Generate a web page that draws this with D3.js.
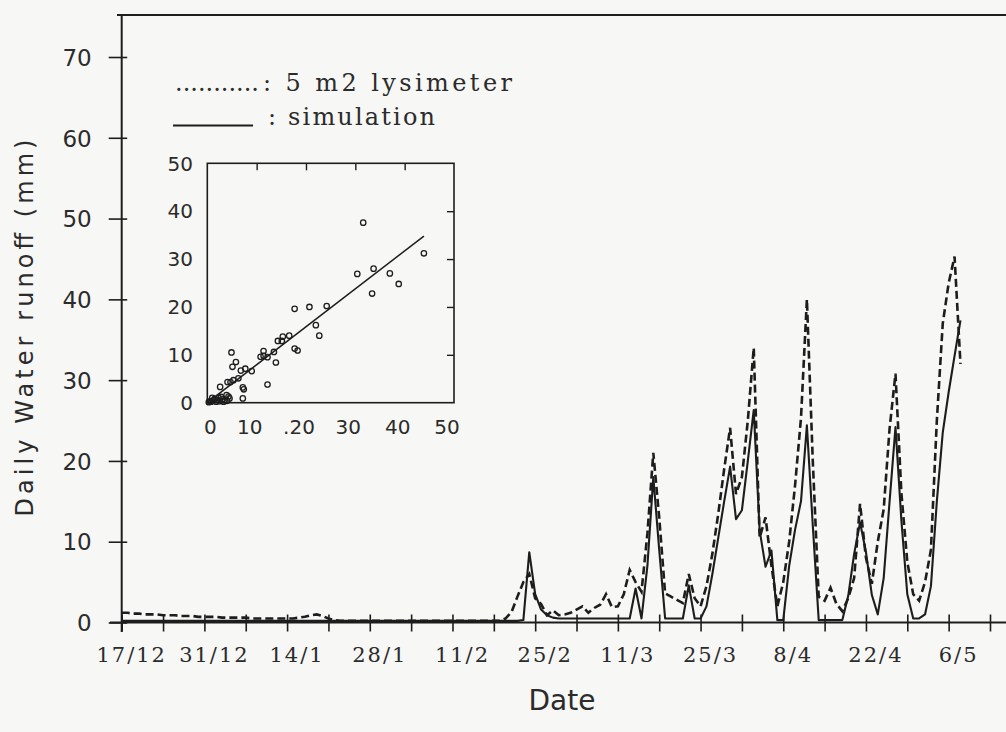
<!DOCTYPE html>
<html><head><meta charset="utf-8">
<script src="https://cdn.jsdelivr.net/npm/d3@7"></script>
<style>body{margin:0;background:#f7f7f5;}svg{display:block;}</style>
</head><body>
<svg id="chart" width="1006" height="732"></svg>
<script>
// ---------- data ----------
const startDate = "1990-12-17"; // day 0 = 17/12
// Daily water runoff (mm), one value per day from 17/12
const lysimeter = [
 1.2,1.2,1.1,1.1,1.0,1.0,1.0,0.9,0.9,0.9,0.8,0.8,0.8,0.7,0.7,0.7,0.7,0.6,0.6,0.6,
 0.6,0.6,0.5,0.5,0.5,0.5,0.5,0.5,0.5,0.5,0.6,0.7,0.9,1.0,0.8,0.5,0.3,0.2,0.2,0.2,
 0.2,0.2,0.2,0.2,0.2,0.2,0.2,0.2,0.2,0.2,0.2,0.2,0.2,0.2,0.2,0.2,0.2,0.2,0.2,0.2,
 0.2,0.2,0.2,0.2,0.2,0.5,1.3,3.2,5.0,6.0,3.0,2.3,0.9,1.5,0.9,1.0,1.2,1.6,2.0,1.2,
 1.8,2.2,3.5,1.9,2.0,3.5,6.5,5.0,3.8,11.0,21.0,13.0,3.6,3.2,2.8,2.4,6.0,3.0,2.0,4.5,
 8.5,13.5,19.0,24.1,15.9,18.0,25.0,34.0,10.5,13.0,7.0,2.0,5.0,10.0,17.0,25.3,40.0,20.0,3.2,2.7,
 4.3,2.3,1.4,3.0,5.5,14.7,8.0,4.8,10.0,14.0,24.0,30.8,16.0,7.5,3.5,2.7,5.0,9.0,25.0,37.0,
 42.0,45.3,32.0
];
const simulation = [
 0.2,0.2,0.2,0.2,0.2,0.2,0.2,0.2,0.2,0.2,0.2,0.2,0.2,0.2,0.2,0.2,0.2,0.2,0.2,0.2,
 0.2,0.2,0.2,0.2,0.2,0.2,0.2,0.2,0.2,0.2,0.2,0.2,0.2,0.2,0.2,0.2,0.2,0.2,0.2,0.2,
 0.2,0.2,0.2,0.2,0.2,0.2,0.2,0.2,0.2,0.2,0.2,0.2,0.2,0.2,0.2,0.2,0.2,0.2,0.2,0.2,
 0.2,0.2,0.2,0.2,0.2,0.2,0.2,0.2,0.3,8.7,3.5,1.6,0.9,0.6,0.5,0.5,0.5,0.5,0.5,0.5,
 0.5,0.5,0.5,0.5,0.5,0.5,0.5,4.2,0.5,7.0,18.0,9.0,0.5,0.5,0.5,0.5,4.6,0.5,0.5,2.0,
 6.0,10.5,15.0,19.3,12.8,13.9,20.0,26.3,11.4,6.9,8.9,0.3,0.3,7.0,11.5,15.0,24.4,12.0,0.3,0.3,
 0.3,0.3,0.3,3.3,8.5,12.4,8.7,3.4,1.0,5.5,15.0,24.2,12.6,3.5,0.5,0.5,1.0,4.5,15.0,23.5,
 28.5,33.0,37.4
];
const xTickLabels = ["17/12","31/12","14/1","28/1","11/2","25/2","11/3","25/3","8/4","22/4","6/5"];
const yTickValues = [0,10,20,30,40,50,60,70];
const legendLabels = [": 5 m2 lysimeter", ": simulation"];
const xTitle = "Date";
const yTitle = "Daily Water runoff (mm)";

// inset scatter: measured (x) vs simulated (y) daily runoff
const insetMeasured  = [31.6,43.9,30.4,33.7,33.4,37.0,38.8,17.7,20.7,24.2,22.0,22.7,17.7,18.3,16.6,15.3,15.1,14.3,13.5,13.9,11.4,11.4,10.8,12.2,12.2,9.0,7.7,6.8,4.9,5.1,5.8,6.3,5.3,4.1,4.7,2.6,7.2,7.4,7.2,3.9,2.8,0.3,0.8,1.2,1.5,2.0,2.5,3.0,3.5,4.0,4.5,1.0,0.5,1.8,2.3,3.3,4.3];
const insetSimulated = [37.6,31.2,26.9,28.0,22.8,27.0,24.8,19.6,20.0,20.2,16.2,14.0,11.3,10.9,14.0,13.8,12.9,12.9,10.6,8.4,10.8,9.8,9.6,9.5,3.8,6.6,7.1,6.7,10.5,7.5,8.5,5.1,4.7,4.3,4.3,3.3,3.2,2.8,0.9,1.6,1.2,0.1,0.2,0.5,0.8,0.6,0.3,0.7,0.5,0.4,0.9,1.0,0.3,0.2,1.0,0.2,1.3];
const fitMeasured  = [0, 43.9];
const fitSimulated = [0, 34.8];
const insetTickValues = [0,10,20,30,40,50];
const insetTickLabels = ["0","10",".20","30","40","50"];

// ---------- drawing ----------
const ink = "#1d1d1d", txt = "#2b2b2b";
const svg = d3.select("#chart");
svg.append("rect").attr("width",1006).attr("height",732).attr("fill","#f7f7f5");

const t0 = new Date(startDate + "T00:00:00Z");
const day = i => d3.utcDay.offset(t0, i);
const x = d3.scaleUtc().domain([t0, day(147)]).range([121.7, 990]);
const y = d3.scaleLinear().domain([0, 70]).range([622.5, 57]);

// frame: top border and left axis line
svg.append("line").attr("x1",117).attr("x2",1006).attr("y1",15).attr("y2",15)
  .attr("stroke",ink).attr("stroke-width",2);
svg.append("line").attr("x1",x.range()[0]).attr("x2",x.range()[0]).attr("y1",15).attr("y2",632)
  .attr("stroke",ink).attr("stroke-width",2);

// y axis
const gy = svg.append("g").attr("transform",`translate(${x.range()[0]},0)`)
  .call(d3.axisLeft(y).tickValues(yTickValues).tickSize(13).tickFormat(d3.format("d")));
gy.select(".domain").remove();
gy.selectAll(".tick line").attr("x1",5.5).attr("x2",-13).attr("stroke",ink).attr("stroke-width",1.6);
gy.selectAll(".tick text").attr("x",-30).attr("dy","0.36em")
  .attr("font-family","DejaVu Sans").attr("font-size",23).attr("fill",txt);

// x axis
const weekTicks = d3.range(0, 148, 7).map(day);
const labelTicks = xTickLabels.map((_, i) => day(i * 14));
const gx = svg.append("g").attr("transform",`translate(0,${y(0)})`)
  .call(d3.axisBottom(x).tickValues(weekTicks).tickSize(9).tickFormat(""));
gx.select(".domain").attr("d","M110,0H1006").attr("stroke",ink).attr("stroke-width",2);
gx.selectAll(".tick line").attr("y1",-8).attr("y2",9).attr("stroke",ink).attr("stroke-width",1.6);
svg.append("g").selectAll("text").data(labelTicks).join("text")
  .attr("x", d => x(d) + 10).attr("y", 662)
  .attr("text-anchor","middle").attr("font-family","DejaVu Serif").attr("font-size",21)
  .attr("letter-spacing",2).attr("fill",txt)
  .text((d, i) => xTickLabels[i]);

// titles
svg.append("text").attr("x",562).attr("y",710).attr("text-anchor","middle")
  .attr("font-family","DejaVu Sans").attr("font-size",28).attr("fill",txt).text(xTitle);
svg.append("text").attr("transform","translate(33,328) rotate(-90)").attr("text-anchor","middle")
  .attr("font-family","DejaVu Sans").attr("font-size",24).attr("fill",txt)
  .attr("textLength",377).attr("lengthAdjust","spacing").text(yTitle);

// series lines
const line = d3.line().x((d, i) => x(day(i))).y(d => y(d));
svg.append("path").datum(simulation).attr("d",line).attr("fill","none")
  .attr("stroke",ink).attr("stroke-width",2.1).attr("stroke-linejoin","round");
svg.append("path").datum(lysimeter).attr("d",line).attr("fill","none")
  .attr("stroke",ink).attr("stroke-width",2.6).attr("stroke-dasharray","8,4");

// legend
svg.append("text").attr("x",175).attr("y",91).attr("font-family","DejaVu Serif").attr("font-size",24)
  .attr("fill",txt).attr("textLength",84).attr("lengthAdjust","spacing").text("...........");
svg.append("text").attr("x",263).attr("y",91).attr("font-family","DejaVu Serif").attr("font-size",24)
  .attr("fill",txt).attr("textLength",249).attr("lengthAdjust","spacing").text(legendLabels[0]);
svg.append("line").attr("x1",173).attr("x2",253).attr("y1",125.5).attr("y2",125.5)
  .attr("stroke",ink).attr("stroke-width",2);
svg.append("text").attr("x",268).attr("y",124.5).attr("font-family","DejaVu Serif").attr("font-size",24)
  .attr("fill",txt).attr("textLength",167).attr("lengthAdjust","spacing").text(legendLabels[1]);

// inset
const ix = d3.scaleLinear().domain([0,50]).range([207.3,454]);
const iy = d3.scaleLinear().domain([0,50]).range([402.7,163.3]);
const inset = svg.append("g");
inset.append("rect").attr("x",ix(0)).attr("y",iy(50)).attr("width",ix(50)-ix(0)).attr("height",iy(0)-iy(50))
  .attr("fill","none").attr("stroke",ink).attr("stroke-width",1.6);
// inner ticks on top and right edges
const inner = insetTickValues.filter(v => v > 0 && v < 50);
inset.append("g").attr("transform",`translate(0,${iy(50)})`)
  .call(d3.axisBottom(ix).tickValues(inner).tickSize(7).tickFormat(""))
  .call(g => g.select(".domain").remove())
  .selectAll("line").attr("stroke",ink).attr("stroke-width",1.4);
inset.append("g").attr("transform",`translate(${ix(50)},0)`)
  .call(d3.axisLeft(iy).tickValues(inner).tickSize(7).tickFormat(""))
  .call(g => g.select(".domain").remove())
  .selectAll("line").attr("stroke",ink).attr("stroke-width",1.4);
// labels
inset.append("g").selectAll("text").data(insetTickValues).join("text")
  .attr("x", d => ix(d) - (d === 0 ? -3 : 7)).attr("y", 434).attr("text-anchor","middle")
  .attr("font-family","DejaVu Sans").attr("font-size",20).attr("fill",txt)
  .text((d, i) => insetTickLabels[i]);
inset.append("g").selectAll("text").data(insetTickValues).join("text")
  .attr("x", 193).attr("y", d => iy(d)).attr("dy","0.36em").attr("text-anchor","end")
  .attr("font-family","DejaVu Sans").attr("font-size",20).attr("fill",txt)
  .text(d => d);
// fit line
inset.append("line").attr("x1",ix(fitMeasured[0])).attr("y1",iy(fitSimulated[0]))
  .attr("x2",ix(fitMeasured[1])).attr("y2",iy(fitSimulated[1]))
  .attr("stroke",ink).attr("stroke-width",1.5);
// points
inset.append("g").selectAll("circle").data(insetMeasured).join("circle")
  .attr("cx", d => ix(d)).attr("cy", (d, i) => iy(insetSimulated[i])).attr("r",2.7)
  .attr("fill","none").attr("stroke",ink).attr("stroke-width",1.3);
</script>
</body></html>
